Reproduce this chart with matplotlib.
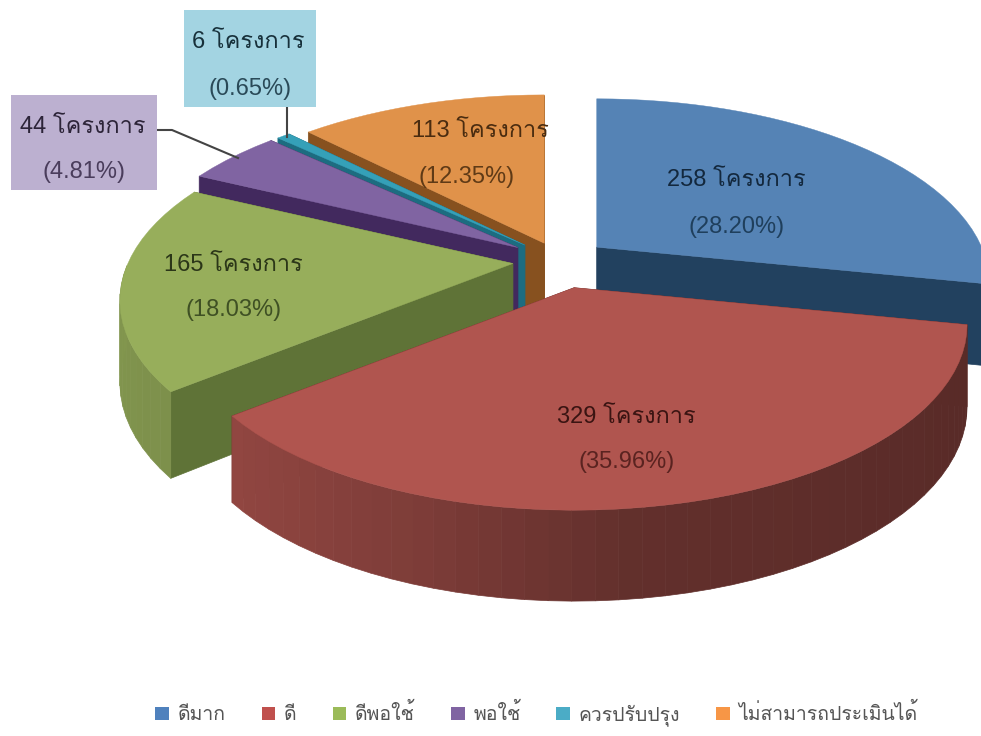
import numpy as np
import matplotlib
matplotlib.use('Agg')
import matplotlib.pyplot as plt
from matplotlib.patches import Patch

plt.rcParams['font.family'] = ['Liberation Sans', 'Loma']

categories = ['ดีมาก', 'ดี', 'ดีพอใช้', 'พอใช้', 'ควรปรับปรุง', 'ไม่สามารถประเมินได้']
projects = [258, 329, 165, 44, 6, 113]
percents = ['28.20', '35.96', '18.03', '4.81', '0.65', '12.35']

top_colors = ['#5583b5', '#b0554f', '#97ae5b', '#8064a2', '#35a0b8', '#e0924a']
cut_colors = ['#22415f', '#6b2b27', '#5f7337', '#42295e', '#1d6c80', '#87511f']
explode = [0.125, 0.15, 0.123, 0.135, 0.13, 0.11]
draw_order = [5, 4, 3, 0, 2, 1]

# perspective of the disc, in pixels
cx, cy = 560, 261
a, b, k = 385, 178, 0.2
depth = 80


def project(u, v):
    w = 1 + k * v
    return a * u / w, -b * v / w


def thickness(v):
    return depth / (1 + 0.12 * v)


def shade(color, f):
    rgb = np.array(matplotlib.colors.to_rgb(color))
    return tuple(rgb * f)


fig, ax = plt.subplots(figsize=(9.81, 7.36), dpi=100)
ax.set_position([0, 0, 1, 1])
ax.set_xlim(0, 981)
ax.set_ylim(736, 0)
ax.axis('off')

# slice angles, clockwise from 12 o'clock
total = sum(projects)
ends = np.cumsum(projects) / total * 2 * np.pi
starts = np.concatenate([[0], ends[:-1]])

for i in draw_order:
    t = np.linspace(starts[i], ends[i], max(3, int(projects[i] / 7)))
    mid = (starts[i] + ends[i]) / 2
    ox, oy = project(explode[i] * np.sin(mid), explode[i] * np.cos(mid))
    ox += cx
    oy += cy
    u, v = np.sin(t), np.cos(t)
    px, py = project(u, v)
    px = px + ox
    py = py + oy
    dz = thickness(v)
    z = 1 + draw_order.index(i)

    # the two cut faces
    for j in (0, -1):
        ax.fill([ox, px[j], px[j], ox], [oy, py[j], py[j] + dz[j], oy + depth],
                color=cut_colors[i], lw=0.5, zorder=z)

    # outer rim, only the part facing us, darker to the right
    for j in range(len(t) - 1):
        if v[j] + v[j + 1] > 0:
            continue
        f = np.interp((u[j] + u[j + 1]) / 2, [-1, -0.75, -0.35, 0.1, 1],
                      [0.86, 0.82, 0.72, 0.56, 0.5])
        if i == 0:
            f = 0.45
        c = shade(top_colors[i], f)
        ax.fill([px[j], px[j + 1], px[j + 1], px[j]],
                [py[j], py[j + 1], py[j + 1] + dz[j + 1], py[j] + dz[j]],
                color=c, lw=0.5, zorder=z)

    # top face
    ax.fill(np.r_[ox, px], np.r_[oy, py], color=top_colors[i], lw=0.3, zorder=z)

# boxes behind the two small labels
ax.fill([11, 157, 157, 11], [95, 95, 190, 190], color='#bcb0d0', lw=0, zorder=10)
ax.fill([184, 316, 316, 184], [10, 10, 107, 107], color='#a3d4e2', lw=0, zorder=10)

# leader lines
ax.plot([157, 172, 238], [130, 130, 158], color='#444444', lw=1.5, zorder=9)
ax.plot([287, 287], [107, 137], color='#444444', lw=1.5, zorder=9)

name_pos = [(736, 180), (626, 417), (233, 265), (83, 127), (248, 42), (480, 131)]
pct_pos = [(737, 227), (627, 462), (234, 310), (84, 172), (250, 89), (467, 177)]
name_colors = ['#13283d', '#3a1412', '#2b3618', '#2c2438', '#17303a', '#4a2c10']
pct_colors = ['#1f3f5c', '#5a2320', '#3f5024', '#4a3d5c', '#2a4a58', '#5f3a16']

for i in range(len(projects)):
    ax.text(*name_pos[i], f'{projects[i]} โครงการ', fontsize=17, ha='center', va='center',
            color=name_colors[i], zorder=12)
    ax.text(*pct_pos[i], f'({percents[i]}%)', fontsize=17, ha='center', va='center',
            color=pct_colors[i], zorder=12)

handles = [Patch(facecolor=c, edgecolor='none') for c in ['#4f81bd', '#c0504d', '#9bbb59', '#8064a2', '#4bacc6', '#f79646']]
ax.legend(handles, categories, ncol=6, loc='center', bbox_to_anchor=(0.547, 0.029),
          frameon=False, fontsize=14, handlelength=0.7, handleheight=0.7, handletextpad=0.45,
          columnspacing=1.85, labelcolor='#555555')

fig.savefig('out.png', dpi=100)
